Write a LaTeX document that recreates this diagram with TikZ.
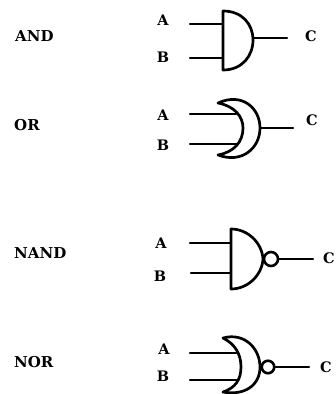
\documentclass[tikz,border=0pt]{standalone}
\usepackage{fontspec}
\usepackage{tikz}
\setmainfont{DejaVu Serif}
\begin{document}
\begin{tikzpicture}[x=1pt, y=-1pt,
        gatename/.style={font=\bfseries\fontsize{15}{15}\selectfont, inner sep=0pt, anchor=west},
        pin/.style={font=\bfseries\fontsize{14.5}{15}\selectfont, inner sep=0pt},
        gatebody/.style={draw, line width=2.7pt, line cap=round, line join=round},
        wire/.style={draw, line width=2.4pt, line cap=round},
        bubble/.style={circle, draw, line width=2.6pt, inner sep=0pt}]

        \useasboundingbox (0,0) rectangle (336,394);

        % Names
        \node [gatename] (andname) at (15,36) {AND};
        \node [gatename] (orname) at (14,125) {OR};
        \node [gatename] (nandname) at (14,253) {NAND};
        \node [gatename] (norname) at (14,362) {NOR};

        % Pins
        \node [pin] (andA) at (163,20) {A};
        \node [pin] (andB) at (163,57) {B};
        \node [pin] (andC) at (311,36) {C};
        \node [pin] (orA) at (163,115) {A};
        \node [pin] (orB) at (163,145) {B};
        \node [pin] (orC) at (312,120) {C};
        \node [pin] (nandA) at (161,243) {A};
        \node [pin] (nandB) at (160,276) {B};
        \node [pin] (nandC) at (329,258) {C};
        \node [pin] (norA) at (164,349) {A};
        \node [pin] (norB) at (163,376) {B};
        \node [pin] (norC) at (326,367) {C};

        % Gates
        \path [gatebody] (223,11) .. controls (242,11) and (253,24) .. (253,40)
            .. controls (253,56) and (242,70) .. (223,70) -- cycle;
        \path [gatebody] (218,103) .. controls (242,92) and (260,108) .. (260,128)
            .. controls (260,148) and (242,164) .. (218,155)
            .. controls (234,152) and (243,142) .. (243,128)
            .. controls (243,116) and (234,106) .. (218,103) -- cycle;
        \path [gatebody] (231,229) .. controls (248,229) and (262,243) .. (263,259)
            .. controls (262,275) and (248,289) .. (231,289) -- cycle;
        \path [gatebody] (223,338) .. controls (245,332) and (260,349) .. (260,367)
            .. controls (260,385) and (245,396) .. (223,392)
            .. controls (235,388) and (241,380) .. (241,367)
            .. controls (241,354) and (235,344) .. (223,338) -- cycle;
        \node [bubble, minimum size=14pt] (nandnot) at (271,259) {};
        \node [bubble, minimum size=12.5pt] (nornot) at (268,367) {};

        % Wire ends
        \coordinate (andAin) at (190,24);
        \coordinate (andAend) at (223,24);
        \coordinate (andBin) at (190,58);
        \coordinate (andBend) at (223,58);
        \coordinate (andout) at (253,38);
        \coordinate (andoutend) at (287,38);
        \coordinate (orAin) at (190,114);
        \coordinate (orAend) at (236,114);
        \coordinate (orBin) at (190,144);
        \coordinate (orBend) at (237,144);
        \coordinate (orout) at (260,128);
        \coordinate (oroutend) at (293,128);
        \coordinate (nandAin) at (190,243);
        \coordinate (nandAend) at (231,243);
        \coordinate (nandBin) at (191,273);
        \coordinate (nandBend) at (231,273);
        \coordinate (nandoutend) at (313,259);
        \coordinate (norAin) at (190,353);
        \coordinate (norAend) at (238,353);
        \coordinate (norBin) at (190,380);
        \coordinate (norBend) at (238,380);
        \coordinate (noroutend) at (309,367);

        % Edges
        \path [wire] (andAin) -- (andAend);
        \path [wire] (andBin) -- (andBend);
        \path [wire] (andout) -- (andoutend);
        \path [wire] (orAin) -- (orAend);
        \path [wire] (orBin) -- (orBend);
        \path [wire] (orout) -- (oroutend);
        \path [wire] (nandAin) -- (nandAend);
        \path [wire] (nandBin) -- (nandBend);
        \path [wire] (nandnot) -- (nandoutend);
        \path [wire] (norAin) -- (norAend);
        \path [wire] (norBin) -- (norBend);
        \path [wire] (nornot) -- (noroutend);

    \end{tikzpicture}
\end{document}
